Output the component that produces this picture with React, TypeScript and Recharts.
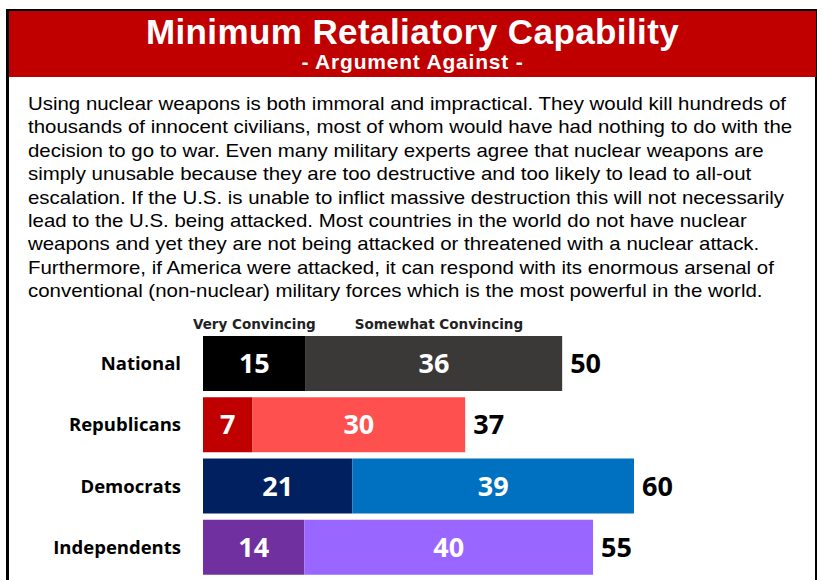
import React from 'react';
import { BarChart, Bar, XAxis, YAxis, LabelList, Cell } from 'recharts';

const categories = ['National', 'Republicans', 'Democrats', 'Independents'];
const veryValues = [14.3, 6.9, 20.8, 14.1];
const somewhatValues = [35.7, 29.6, 39.2, 40.2];
const veryLabels = [15, 7, 21, 14];
const somewhatLabels = [36, 30, 39, 40];
const totalLabels = [50, 37, 60, 55];
const seriesNames = ['Very Convincing', 'Somewhat Convincing'];

const veryColors = ['#000000', '#C00000', '#002060', '#7030A0'];
const somewhatColors = ['#3B3838', '#FF5050', '#0070C0', '#9966FF'];

const title = 'Minimum Retaliatory Capability';
const subtitle = '- Argument Against -';
const textLines = [
  'Using nuclear weapons is both immoral and impractical. They would kill hundreds of',
  'thousands of innocent civilians, most of whom would have had nothing to do with the',
  'decision to go to war. Even many military experts agree that nuclear weapons are',
  'simply unusable because they are too destructive and too likely to lead to all-out',
  'escalation. If the U.S. is unable to inflict massive destruction this will not necessarily',
  'lead to the U.S. being attacked. Most countries in the world do not have nuclear',
  'weapons and yet they are not being attacked or threatened with a nuclear attack.',
  'Furthermore, if America were attacked, it can respond with its enormous arsenal of',
  'conventional (non-nuclear) military forces which is the most powerful in the world.',
];

const data = categories.map((name, i) => ({
  name,
  very: veryValues[i],
  somewhat: somewhatValues[i],
  veryLabel: veryLabels[i],
  somewhatLabel: somewhatLabels[i],
  totalLabel: totalLabels[i],
  veryHeader: i === 0 ? seriesNames[0] : null,
  somewhatHeader: i === 0 ? seriesNames[1] : null,
}));

const numFont = '"Open Sans", "DejaVu Sans", sans-serif';

const makeHeader = (shift: number) => (props: any) => {
  const { x, y, width, value } = props;
  if (value === null || value === undefined || value === '') return null;
  return (
    <text
      x={Number(x) + Number(width) / 2 + shift}
      y={Number(y) - 7}
      textAnchor="middle"
      fill="#222"
      style={{ fontFamily: '"DejaVu Sans", sans-serif', fontWeight: 700, fontSize: 13.5 }}
    >
      {value}
    </text>
  );
};

export default function App() {
  return (
    <div
      style={{
        position: 'absolute',
        left: 0,
        top: 0,
        width: 822,
        height: 580,
        overflow: 'hidden',
        background: '#ffffff',
      }}
    >
      <div
        style={{
          position: 'absolute',
          left: 6,
          top: 9,
          width: 806,
          height: 600,
          borderTop: '2px solid #000',
          borderLeft: '3px solid #000',
          borderRight: '2px solid #000',
        }}
      />
      <div
        style={{
          position: 'absolute',
          left: 9,
          top: 11,
          width: 807,
          height: 66,
          background: '#C00000',
          color: '#fff',
          fontFamily: '"Liberation Sans", Arial, sans-serif',
          fontWeight: 700,
          textAlign: 'center',
        }}
      >
        <div style={{ position: 'absolute', left: 0, right: 0, top: 1, fontSize: 35, lineHeight: '40px', letterSpacing: 0.4 }}>
          {title}
        </div>
        <div style={{ position: 'absolute', left: 0, right: 0, top: 39, fontSize: 21, lineHeight: '24px', letterSpacing: 0.8 }}>
          {subtitle}
        </div>
      </div>
      <div
        style={{
          position: 'absolute',
          left: 28,
          top: 92,
          fontFamily: '"Liberation Sans", Arial, sans-serif',
          fontSize: 19,
          color: '#000',
          transform: 'scaleX(1.075)',
          transformOrigin: 'left top',
        }}
      >
        {textLines.map((line, i) => (
          <div key={i} style={{ whiteSpace: 'nowrap', height: 23.4, lineHeight: '23.4px' }}>
            {line}
          </div>
        ))}
      </div>
      <div style={{ position: 'absolute', left: 0, top: 308 }}>
        <BarChart
          width={822}
          height={270}
          data={data}
          layout="vertical"
          margin={{ top: 25, right: 188, bottom: 0, left: 0 }}
        >
          <XAxis type="number" domain={[0, 60]} hide />
          <YAxis
            type="category"
            dataKey="name"
            width={203}
            tickLine={false}
            axisLine={false}
            tickMargin={16}
            tick={{ fontFamily: numFont, fontWeight: 700, fontSize: 18.5, fill: '#000' }}
          />
          <Bar dataKey="very" stackId="a" barSize={55} isAnimationActive={false}>
            {data.map((d, i) => (
              <Cell key={i} fill={veryColors[i]} />
            ))}
            <LabelList
              dataKey="veryLabel"
              position="center"
              fill="#ffffff"
              style={{ fontFamily: numFont, fontWeight: 700, fontSize: 27 }}
            />
            <LabelList dataKey="veryHeader" content={makeHeader(0)} />
          </Bar>
          <Bar dataKey="somewhat" stackId="a" barSize={55} isAnimationActive={false}>
            {data.map((d, i) => (
              <Cell key={i} fill={somewhatColors[i]} />
            ))}
            <LabelList
              dataKey="somewhatLabel"
              position="center"
              fill="#ffffff"
              style={{ fontFamily: numFont, fontWeight: 700, fontSize: 27 }}
            />
            <LabelList
              dataKey="totalLabel"
              position="right"
              offset={8}
              fill="#000"
              style={{ fontFamily: numFont, fontWeight: 700, fontSize: 27 }}
            />
            <LabelList dataKey="somewhatHeader" content={makeHeader(5)} />
          </Bar>
        </BarChart>
      </div>
    </div>
  );
}
